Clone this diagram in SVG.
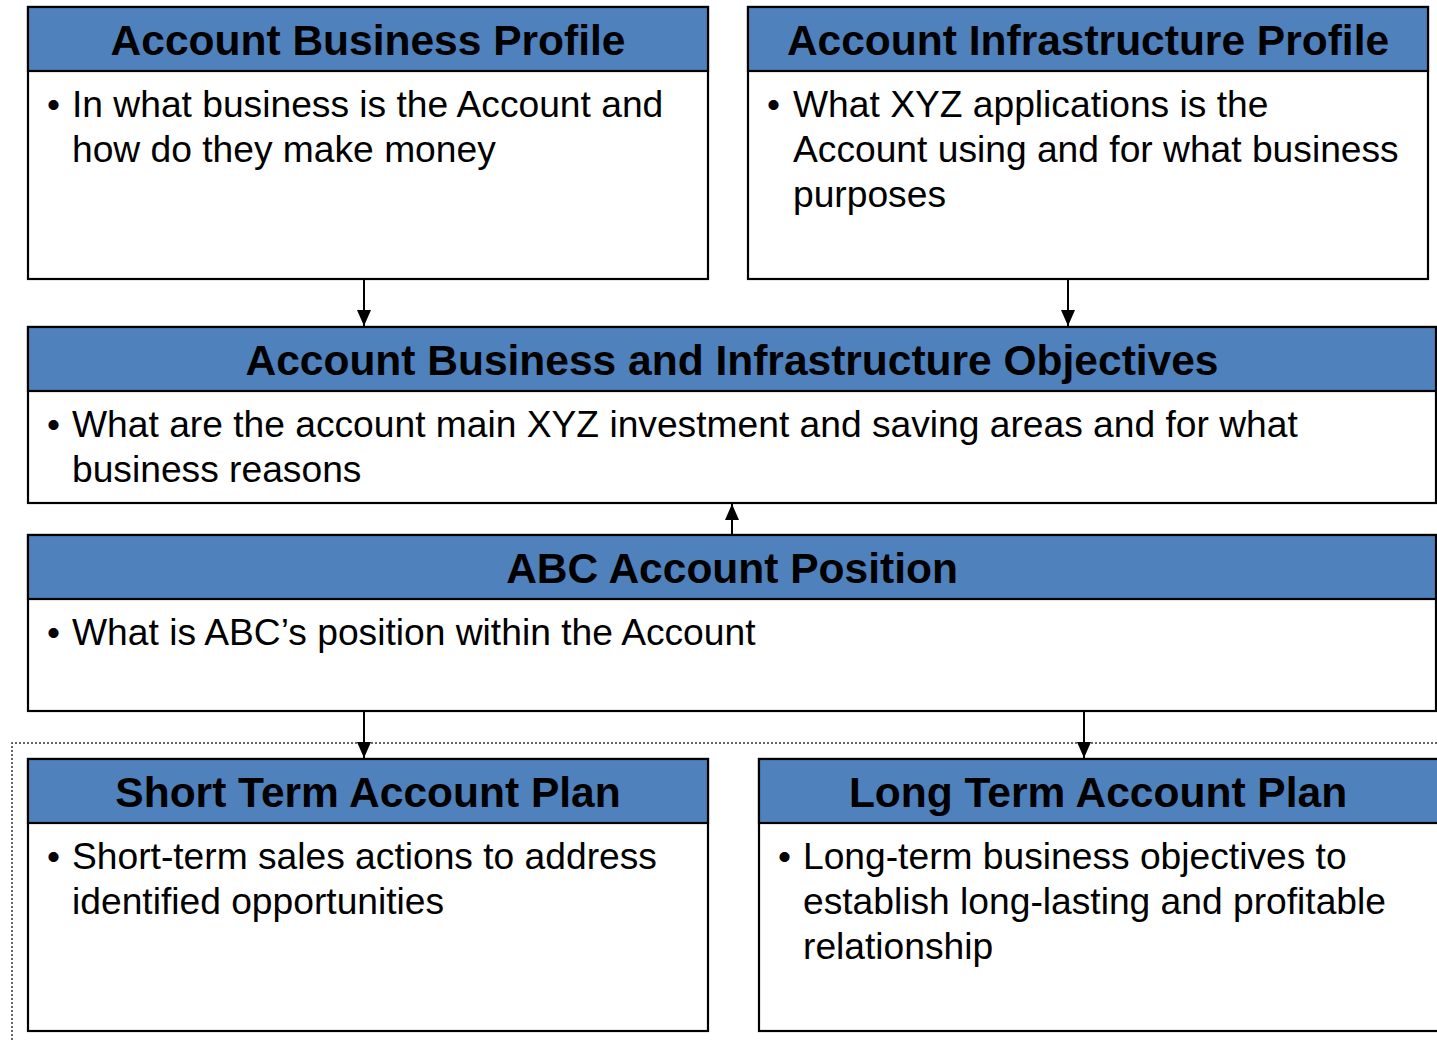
<svg xmlns="http://www.w3.org/2000/svg" width="1437" height="1040" viewBox="0 0 1437 1040">
<style>
.box{fill:#ffffff;stroke:#000;stroke-width:2.2}
.hdr{fill:#4F81BD;stroke:#000;stroke-width:2.2}
.title{font-family:"Liberation Sans",Arial,sans-serif;font-weight:bold;font-size:42.5px;fill:#000;text-anchor:middle}
.body{font-family:"Liberation Sans",Arial,sans-serif;font-size:37.2px;fill:#000}
.conn{stroke:#000;stroke-width:2;fill:none}
</style>
<defs>
<marker id="arr" viewBox="0 0 16 14" refX="16" refY="7" markerWidth="16" markerHeight="14" markerUnits="userSpaceOnUse" orient="auto">
<path d="M0,0 L16,7 L0,14 z" fill="#000"/>
</marker>
</defs>
<rect width="1437" height="1040" fill="#fff"/>
<g id="frame">
<path d="M12,1040 L12,743 L1437,743" fill="none" stroke="#333" stroke-width="1.5" stroke-dasharray="2,2"/>
</g>
<g id="business-profile">
<rect class="box" x="28" y="7" width="680" height="272"/>
<rect class="hdr" x="28" y="7" width="680" height="64"/>
<text class="title" x="368" y="55">Account Business Profile</text>
<text class="body" x="47" y="117">•</text>
<text class="body" x="72" y="117">In what business is the Account and</text>
<text class="body" x="72" y="162">how do they make money</text>
</g>
<g id="infrastructure-profile">
<rect class="box" x="748" y="7" width="680" height="272"/>
<rect class="hdr" x="748" y="7" width="680" height="64"/>
<text class="title" x="1088" y="55">Account Infrastructure Profile</text>
<text class="body" x="767" y="117">•</text>
<text class="body" x="793" y="117">What XYZ applications is the</text>
<text class="body" x="793" y="162">Account using and for what business</text>
<text class="body" x="793" y="207">purposes</text>
</g>
<g id="objectives">
<rect class="box" x="28" y="327" width="1408" height="176"/>
<rect class="hdr" x="28" y="327" width="1408" height="64"/>
<text class="title" x="732" y="375">Account Business and Infrastructure Objectives</text>
<text class="body" x="47" y="437">•</text>
<text class="body" x="72" y="437">What are the account main XYZ investment and saving areas and for what</text>
<text class="body" x="72" y="482">business reasons</text>
</g>
<g id="abc-position">
<rect class="box" x="28" y="535" width="1408" height="176"/>
<rect class="hdr" x="28" y="535" width="1408" height="64"/>
<text class="title" x="732" y="583">ABC Account Position</text>
<text class="body" x="47" y="645">•</text>
<text class="body" x="72" y="645">What is ABC’s position within the Account</text>
</g>
<g id="short-term">
<rect class="box" x="28" y="759" width="680" height="272"/>
<rect class="hdr" x="28" y="759" width="680" height="64"/>
<text class="title" x="368" y="807">Short Term Account Plan</text>
<text class="body" x="47" y="869">•</text>
<text class="body" x="72" y="869">Short-term sales actions to address</text>
<text class="body" x="72" y="914">identified opportunities</text>
</g>
<g id="long-term">
<rect class="box" x="759" y="759" width="690" height="272"/>
<rect class="hdr" x="759" y="759" width="690" height="64"/>
<text class="title" x="1098" y="807">Long Term Account Plan</text>
<text class="body" x="778" y="869">•</text>
<text class="body" x="803" y="869">Long-term business objectives to</text>
<text class="body" x="803" y="914">establish long-lasting and profitable</text>
<text class="body" x="803" y="959">relationship</text>
</g>
<g id="connectors">
<line class="conn" x1="364" y1="280" x2="364" y2="326" marker-end="url(#arr)"/>
<line class="conn" x1="1068" y1="280" x2="1068" y2="326" marker-end="url(#arr)"/>
<line class="conn" x1="732" y1="534" x2="732" y2="504" marker-end="url(#arr)"/>
<line class="conn" x1="364" y1="712" x2="364" y2="758" marker-end="url(#arr)"/>
<line class="conn" x1="1084" y1="712" x2="1084" y2="758" marker-end="url(#arr)"/>
</g>
</svg>
